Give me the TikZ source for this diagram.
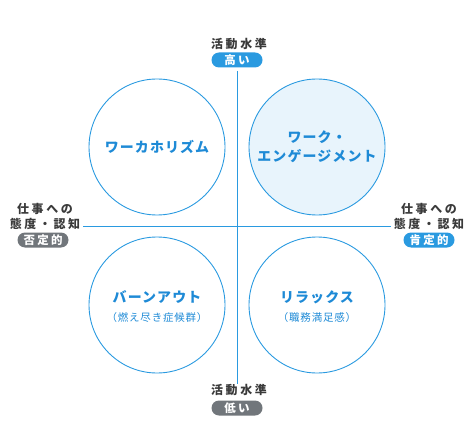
\documentclass[tikz,border=0pt]{standalone}
\usepackage{fontspec}
\setmainfont{Noto Sans CJK JP}
\newfontfamily\lblfont[LetterSpace=22]{Noto Sans CJK JP}
\newfontfamily\bdgfont[LetterSpace=20]{Noto Sans CJK JP}
\newfontfamily\ttlfont[LetterSpace=8]{Noto Sans CJK JP}
\definecolor{lineblue}{HTML}{2A9AE0}
\definecolor{textblue}{HTML}{1E8AD6}
\definecolor{fillblue}{HTML}{E8F4FC}
\definecolor{badgegray}{HTML}{71767B}
\definecolor{labelgray}{HTML}{3A3A3A}
\tikzset{
  quadrant/.style={circle, draw=lineblue, line width=0.9bp, minimum size=136bp, inner sep=0pt},
  qtitle/.style={text=textblue, font=\fontsize{14}{17}\selectfont\bfseries\ttlfont, align=center},
  qsub/.style={text=textblue, font=\fontsize{10.5}{12}\selectfont\ttlfont},
  axislabel/.style={text=labelgray, font=\fontsize{12}{15}\selectfont\bfseries\lblfont, align=center},
  badge/.style={rounded corners=7.5bp, minimum width=51bp, minimum height=15bp, inner sep=0pt,
    text=white, font=\fontsize{11.5}{12}\selectfont\bfseries\bdgfont},
  axis/.style={draw=lineblue, line width=1bp}
}
\begin{document}
\begin{tikzpicture}[x=1bp, y=-1bp]
    \useasboundingbox (0,0) rectangle (474,442);
    %Axes
    \coordinate (top) at (237,71);
    \coordinate (bottom) at (237,384);
    \coordinate (left) at (83,226.5);
    \coordinate (right) at (391,226.5);
    \draw[axis] (top) -- (bottom);
    \draw[axis] (left) -- (right);
    %Top label
    \node[axislabel] (toplabel) at (239,43.5) {活動水準};
    \node[badge, fill=lineblue] (high) at (237,60) {高い};
    %Bottom label
    \node[axislabel] (bottomlabel) at (239,390) {活動水準};
    \node[badge, fill=badgegray] (low) at (237,408) {低い};
    %Left label
    \node[axislabel] (leftlabel) at (45,216.5) {仕事への\\態度・認知};
    \node[badge, fill=badgegray] (negative) at (43,240) {否定的};
    %Right label
    \node[axislabel] (rightlabel) at (429,216.5) {仕事への\\態度・認知};
    \node[badge, fill=lineblue] (positive) at (429,240) {肯定的};
    %Workaholism
    \node[quadrant] (workaholism) at (157,147) {};
    \node[qtitle] (workaholismtext) at (workaholism) {ワーカホリズム};
    %Work engagement
    \node[quadrant, fill=fillblue] (engagement) at (317,147) {};
    \node[qtitle] (engagementtext) at (engagement) {ワーク・\\[2bp]エンゲージメント};
    %Burnout
    \node[quadrant] (burnout) at (157,305) {};
    \node[qtitle] (burnouttext) at (157,297) {バーンアウト};
    \node[qsub] (burnoutsub) at (157,318) {（燃え尽き症候群）};
    %Relax
    \node[quadrant] (relax) at (317,305) {};
    \node[qtitle] (relaxtext) at (317,297) {リラックス};
    \node[qsub] (relaxsub) at (317,318) {（職務満足感）};
\end{tikzpicture}
\end{document}
